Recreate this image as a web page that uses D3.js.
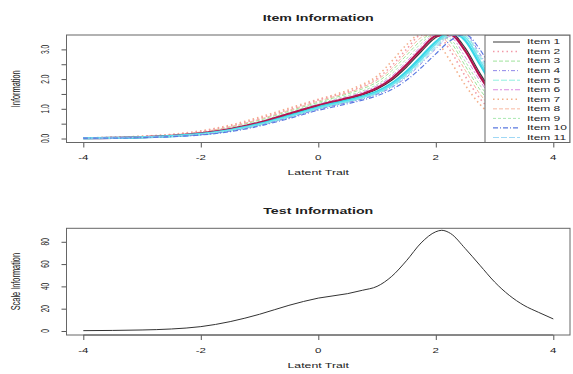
<!DOCTYPE html>
<html><head><meta charset="utf-8">
<script src="https://cdn.jsdelivr.net/npm/d3@7"></script>
<style>
html,body{margin:0;padding:0;background:#fff;}
svg{display:block;}
text{font-family:"Liberation Sans",Arial,Helvetica,sans-serif;fill:#222;}
</style></head>
<body>
<svg id="c" width="573" height="374"></svg>
<script>
// ---------- DATA ----------
const itemTheta = [-4,-3.5,-3,-2.5,-2,-1.5,-1,-0.5,0,0.25,0.5,0.75,1,1.25,1.5,1.75,2,2.25,2.5,2.75,3,3.5,4];
const itemNames = ["Item 1","Item 2","Item 3","Item 4","Item 5","Item 6","Item 7","Item 8","Item 9","Item 10","Item 11","Item 12","Item 13","Item 14"];
const item1  = [0.01,0.02,0.04,0.08,0.16,0.30,0.52,0.80,1.10,1.22,1.33,1.47,1.66,1.96,2.40,2.92,3.40,3.55,3.05,2.20,1.45,0.58,0.22];
const item2  = [0.02,0.04,0.07,0.13,0.24,0.42,0.68,0.98,1.30,1.43,1.57,1.76,2.02,2.45,3.00,3.48,3.50,2.95,2.10,1.35,0.85,0.32,0.12];
const item3  = [0.01,0.03,0.06,0.11,0.21,0.38,0.62,0.92,1.22,1.36,1.50,1.67,1.90,2.28,2.80,3.30,3.58,3.25,2.45,1.65,1.05,0.40,0.15];
const item4  = [0.01,0.02,0.04,0.07,0.13,0.25,0.44,0.70,0.98,1.10,1.21,1.33,1.49,1.72,2.06,2.52,3.02,3.45,3.50,2.85,2.00,0.85,0.32];
const item5  = [0.01,0.02,0.04,0.07,0.14,0.26,0.45,0.71,0.99,1.11,1.22,1.35,1.50,1.74,2.10,2.56,3.06,3.48,3.45,2.78,1.95,0.82,0.31];
const item6  = [0.01,0.02,0.05,0.10,0.18,0.33,0.56,0.85,1.15,1.28,1.40,1.56,1.77,2.10,2.58,3.10,3.50,3.42,2.75,1.95,1.25,0.50,0.19];
const item7  = [0.02,0.04,0.08,0.14,0.26,0.45,0.72,1.02,1.32,1.46,1.62,1.82,2.10,2.60,3.15,3.52,3.30,2.60,1.80,1.15,0.70,0.26,0.10];
const item8  = [0.01,0.03,0.06,0.12,0.22,0.40,0.65,0.95,1.26,1.40,1.54,1.72,1.97,2.36,2.90,3.40,3.55,3.10,2.30,1.50,0.95,0.36,0.13];
const item9  = [0.01,0.02,0.05,0.10,0.19,0.35,0.58,0.88,1.18,1.31,1.44,1.60,1.82,2.18,2.68,3.20,3.55,3.35,2.60,1.80,1.15,0.45,0.17];
const item10 = [0.01,0.01,0.03,0.06,0.12,0.23,0.42,0.67,0.95,1.06,1.17,1.29,1.44,1.65,1.96,2.38,2.85,3.30,3.50,3.00,2.15,0.95,0.36];
const item11 = [0.01,0.02,0.04,0.07,0.14,0.26,0.46,0.72,1.00,1.12,1.23,1.36,1.52,1.76,2.12,2.60,3.10,3.50,3.45,2.72,1.88,0.80,0.30];
const item12 = [0.01,0.02,0.05,0.09,0.17,0.32,0.54,0.83,1.12,1.24,1.36,1.50,1.70,2.02,2.48,3.00,3.45,3.50,2.95,2.10,1.38,0.55,0.21];
const item13 = [0.01,0.02,0.04,0.08,0.15,0.28,0.49,0.76,1.05,1.17,1.28,1.41,1.58,1.85,2.25,2.75,3.25,3.58,3.30,2.50,1.70,0.70,0.27];
const item14 = [0.01,0.02,0.04,0.07,0.14,0.27,0.47,0.74,1.02,1.14,1.25,1.38,1.54,1.80,2.18,2.66,3.18,3.55,3.40,2.62,1.80,0.75,0.28];
const itemValues = [item1,item2,item3,item4,item5,item6,item7,item8,item9,item10,item11,item12,item13,item14];
const itemYMax = 3.35;   // y-limit of the item panel (curves above are clipped)

const testTheta = [-4,-3.5,-3,-2.5,-2,-1.5,-1,-0.5,0,0.5,0.75,1,1.25,1.5,1.75,2,2.1,2.25,2.5,2.75,3,3.25,3.5,3.75,4];
const testInfo  = [0.3,0.5,0.9,1.8,3.9,8.4,15,23,29.5,33.5,36.5,40,49,63,79,89,90.3,87.5,74,59,44,32,23,16.7,10.8];

const xTicks = [-4,-2,0,2,4];
const itemYTicks = [0,0.5,1,1.5,2,2.5,3];
const itemYLabels = ["0.0","","1.0","","2.0","","3.0"];
const testYTicks = [0,20,40,60,80];
const testYLabels = ["0","20","40","60","80"];

// ---------- STYLE ----------
const colors = ["#3a3a3a","#f29aa8","#9ee29a","#8e86e8","#8ff0e0","#d98ae0","#f4b08a","#f7b7a0","#a8e8b0","#5a78e0","#9fd8f5","#b3134f","#39d8e8","#6fe4ee"];
const widths = [1.2,1.6,1,1,1,1,1.6,1,1,1.2,1,2.2,2.4,1.8];
const dashes = [null,"1.5,3","4,2","4,2,1,2","6,2","5,2,2,2","1.5,3","4,2","3,2","5,2,1,2","6,2",null,null,null];
const drawOrder = [2,6,7,1,8,5,0,11,10,12,13,4,3,9];

const svg = d3.select("#c");
const W = {left:66.5,right:570};
const P1 = {top:35,bottom:142.5};
const P2 = {top:228.3,bottom:335};
const SQ = 0.6;

const x = d3.scaleLinear().domain([-4,4]).range([83.3,553.3]);

function txt(g,px,py,s,o){
  o=o||{};
  return g.append("text")
    .attr("transform",`translate(${px},${py}) scale(1,${SQ})`+(o.rot?` rotate(${o.rot})`:""))
    .attr("text-anchor",o.anchor||"middle")
    .style("font-size",(o.size||12)+"px")
    .style("font-weight",o.weight||"normal")
    .text(s);
}

function panel(P,yScale,yTicks,yLabels,title,ylab){
  const g=svg.append("g");
  const xa=g.append("g").attr("transform",`translate(0,${P.bottom})`)
    .call(d3.axisBottom(x).tickValues(xTicks).tickSize(5).tickFormat(""));
  xa.select(".domain").attr("d",`M${x(-4)},0H${x(4)}`);
  xa.selectAll("line,path").attr("stroke","#555").attr("stroke-width",1);
  xTicks.forEach(v=>txt(g,x(v),P.bottom+17.5,v,{size:11.5}));
  const ya=g.append("g").attr("transform",`translate(${W.left},0)`)
    .call(d3.axisLeft(yScale).tickValues(yTicks).tickSize(5).tickFormat(""));
  ya.select(".domain").attr("d",`M0,${yScale(yTicks[0])}V${yScale(yTicks[yTicks.length-1])}`);
  ya.selectAll("line,path").attr("stroke","#555").attr("stroke-width",1);
  yTicks.forEach((v,i)=>{ if(yLabels[i]) txt(g,W.left-17.5,yScale(v),yLabels[i],{size:11,rot:-90}); });
  g.append("rect").attr("x",W.left).attr("y",P.top).attr("width",W.right-W.left).attr("height",P.bottom-P.top)
    .attr("fill","none").attr("stroke","#666").attr("stroke-width",1);
  txt(g,(W.left+W.right)/2,P.top-14,title,{size:14.2,weight:"bold"});
  txt(g,(W.left+W.right)/2,P.bottom+32.5,"Latent Trait",{size:12.3});
  txt(g,19.5,(P.top+P.bottom)/2,ylab,{size:12.3,rot:-90});
  return g;
}

// ---------- ITEM PANEL ----------
const y1 = d3.scaleLinear().domain([0-0.04*itemYMax, itemYMax*1.04]).range([P1.bottom,P1.top]);
svg.append("clipPath").attr("id","clip1").append("rect")
  .attr("x",W.left).attr("y",P1.top).attr("width",W.right-W.left).attr("height",P1.bottom-P1.top);
const cg = svg.append("g").attr("clip-path","url(#clip1)");
const line1 = d3.line().x(d=>x(d[0])).y(d=>y1(d[1])).curve(d3.curveMonotoneX);
drawOrder.forEach(i=>{
  cg.append("path").datum(itemTheta.map((t,k)=>[t,itemValues[i][k]]))
    .attr("d",line1).attr("fill","none").attr("stroke",colors[i])
    .attr("stroke-width",widths[i]).attr("stroke-dasharray",dashes[i]);
});
// legend (top-right; entries below the plot region are clipped away)
const lg = cg.append("g");
lg.append("rect").attr("x",485).attr("y",P1.top).attr("width",W.right-485).attr("height",itemNames.length*9.55+12)
  .attr("fill","#fff").attr("stroke","#666");
itemNames.forEach((n,i)=>{
  const yy=42+i*9.55;
  if (yy > P1.bottom-3) return;
  lg.append("line").attr("x1",493).attr("x2",520).attr("y1",yy).attr("y2",yy)
    .attr("stroke",colors[i]).attr("stroke-width",Math.min(widths[i],1.6)).attr("stroke-dasharray",dashes[i]);
  txt(lg,527,yy+2.3,n,{size:12,anchor:"start"});
});
panel(P1,y1,itemYTicks,itemYLabels,"Item Information","Information");

// ---------- TEST PANEL ----------
const y2 = d3.scaleLinear().domain([-3.6,92.1]).range([P2.bottom,P2.top]);
const line2 = d3.line().x((d,i)=>x(testTheta[i])).y(d=>y2(d)).curve(d3.curveMonotoneX);
svg.append("path").datum(testInfo).attr("d",line2).attr("fill","none").attr("stroke","#333").attr("stroke-width",1);
panel(P2,y2,testYTicks,testYLabels,"Test Information","Scale Information");
</script>
</body></html>
